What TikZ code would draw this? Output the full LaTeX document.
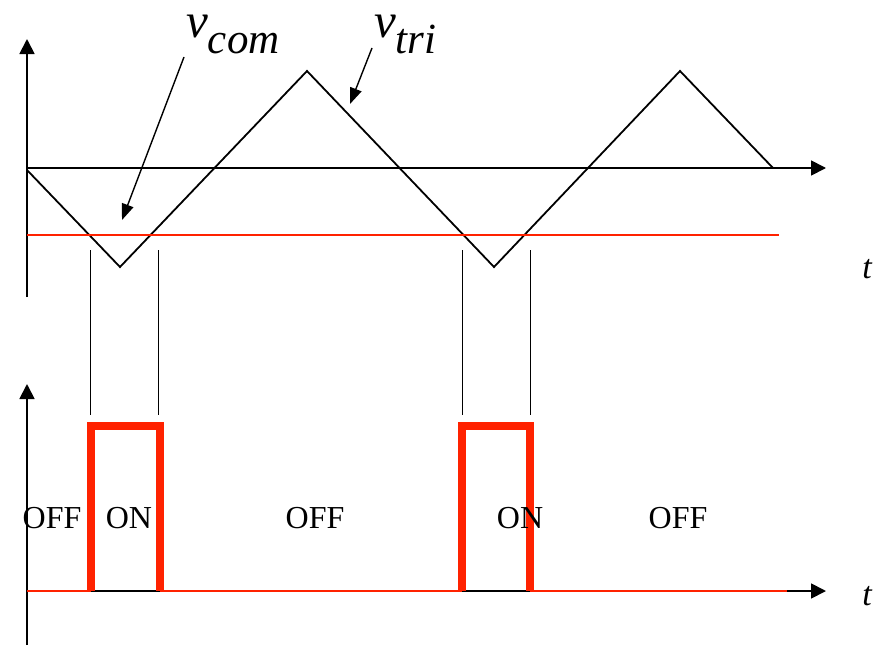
\documentclass[tikz,border=0pt]{standalone}
\usepackage{fontspec}
\setmainfont{Liberation Serif}
\usetikzlibrary{arrows.meta}
\definecolor{pwmred}{RGB}{255,34,0}
\tikzset{
  axis/.style={line width=1.8pt,-{Triangle[length=15pt,width=15pt]}},
  wave/.style={line width=1.8pt,line join=miter},
  levelline/.style={line width=1.8pt,pwmred},
  guide/.style={line width=1pt},
  pulse/.style={line width=8pt,pwmred,line join=miter},
  baseline/.style={line width=1.8pt,pwmred},
  pointer/.style={line width=1.4pt,-{Triangle[length=16pt,width=12pt]}},
  state/.style={anchor=base,inner sep=0pt,font=\fontsize{32}{32}\selectfont},
  tlabel/.style={anchor=base,inner sep=0pt,font=\fontsize{34}{34}\selectfont\itshape},
  siglabel/.style={anchor=base west,inner sep=0pt,text height=24pt,text depth=19pt,
    font=\fontsize{49}{49}\selectfont\itshape},
}
\newcommand{\lowsub}[1]{\raisebox{-17pt}{\fontsize{43}{43}\selectfont #1}}
\begin{document}
\begin{tikzpicture}[x=1pt,y=-1pt]
\useasboundingbox (0,0) rectangle (875,645);

% ---------- upper panel: carrier and reference ----------
\coordinate (o1) at (27,168);
\coordinate (ybot1) at (27,297);
\coordinate (ytop1) at (27,39);
\coordinate (xend1) at (826,168);
\draw[axis] (ybot1) -- (ytop1);
\draw[axis] (o1) -- (xend1);

% triangular carrier
\coordinate (w0) at (27,170);
\coordinate (w1) at (120,267);
\coordinate (w2) at (307,71);
\coordinate (w3) at (494,267);
\coordinate (w4) at (680,71);
\coordinate (w5) at (773,168);
\draw[wave] (w0) -- (w1) -- (w2) -- (w3) -- (w4) -- (w5);

% control level
\coordinate (c0) at (27,235);
\coordinate (c1) at (779,235);
\draw[levelline] (c0) -- (c1);

% guides down to the switching instants
\foreach \n/\x in {a/90,b/158,c/462,d/530}{
  \coordinate (g\n top) at (\x,250);
  \coordinate (g\n bot) at (\x,415);
  \draw[guide] (g\n top) -- (g\n bot);
}

% labels
\node[siglabel] (vcom) at (186,37) {v\lowsub{com}};
\node[siglabel] (vtri) at (374,37) {v\lowsub{tri}};
\coordinate (pcomtail) at (184,57);
\coordinate (pcomtip) at (122,220);
\coordinate (ptritail) at (372,48);
\coordinate (ptritip) at (350,104);
\draw[pointer] (pcomtail) -- (pcomtip);
\draw[pointer] (ptritail) -- (ptritip);

\node[tlabel] (t1) at (867,278) {t};

% ---------- lower panel: switching signal ----------
\coordinate (o2) at (27,591);
\coordinate (ybot2) at (27,645);
\coordinate (ytop2) at (27,384);
\coordinate (xend2) at (826,591);
\draw[axis] (ybot2) -- (ytop2);
\draw[axis] (o2) -- (xend2);

\coordinate (b0) at (27,591);
\coordinate (b1) at (91,591);
\coordinate (b2) at (160,591);
\coordinate (b3) at (462,591);
\coordinate (b4) at (530,591);
\coordinate (b5) at (787,591);
\draw[baseline] (b0) -- (b1);
\draw[baseline] (b2) -- (b3);
\draw[baseline] (b4) -- (b5);

\coordinate (p1a) at (91,426);
\coordinate (p1b) at (160,426);
\coordinate (p2a) at (462,426);
\coordinate (p2b) at (530,426);
\draw[pulse] (b1) -- (p1a) -- (p1b) -- (b2);
\draw[pulse] (b3) -- (p2a) -- (p2b) -- (b4);

\node[state] (s1) at (52,528) {OFF};
\node[state] (s2) at (129,528) {ON};
\node[state] (s3) at (315,528) {OFF};
\node[state] (s4) at (520,528) {ON};
\node[state] (s5) at (678,528) {OFF};

\node[tlabel] (t2) at (867,605) {t};
\end{tikzpicture}
\end{document}
